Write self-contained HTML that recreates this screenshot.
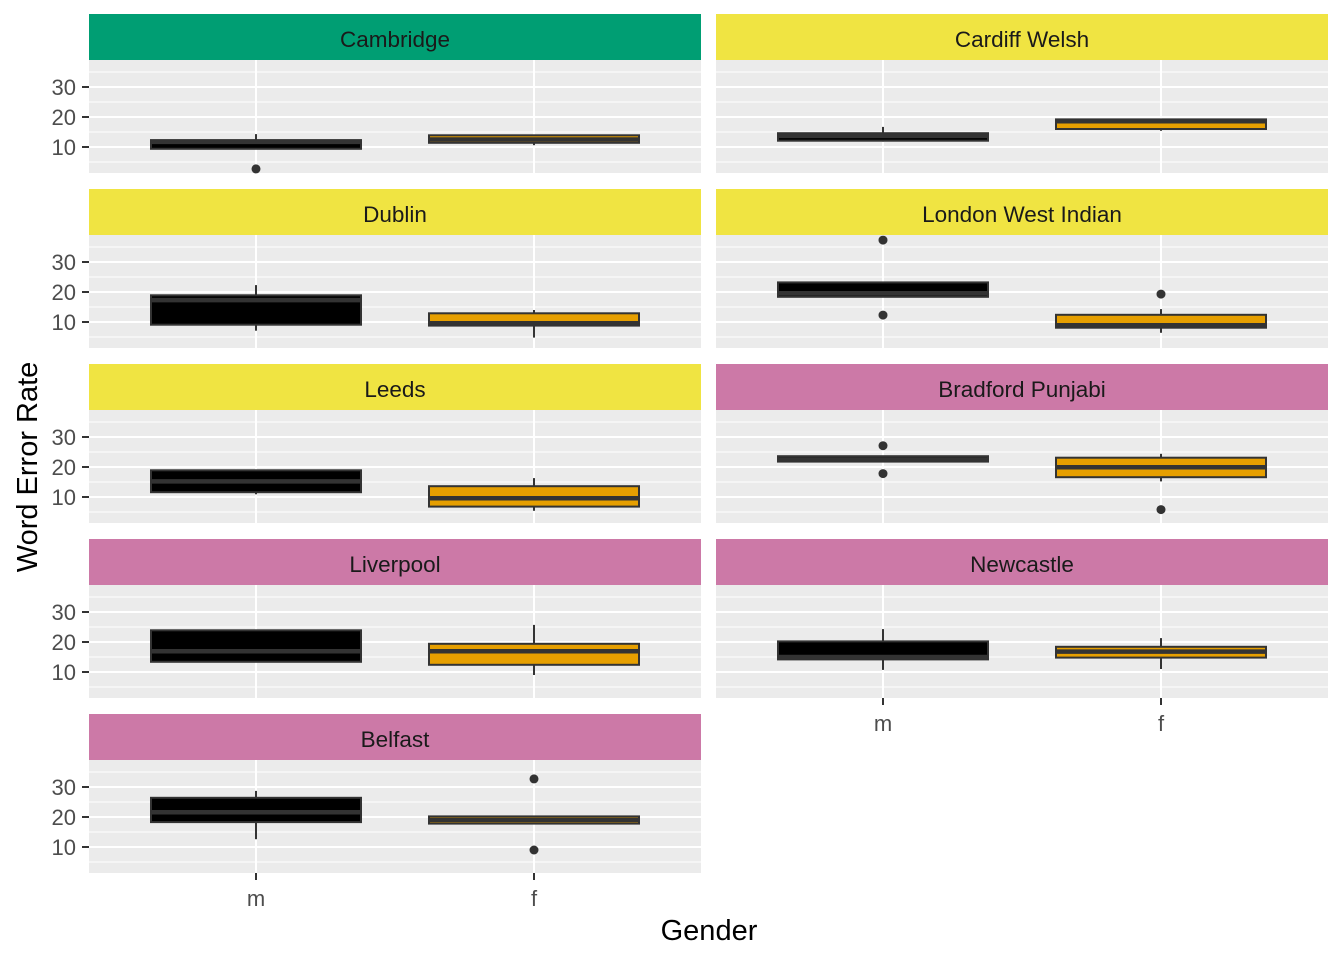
<!DOCTYPE html>
<html><head><meta charset="utf-8"><style>
body{margin:0;background:#fff;font-family:"Liberation Sans",Arial,sans-serif}
svg text{font-family:"Liberation Sans",Arial,sans-serif}
</style></head><body>
<svg id="c" width="1344" height="960"></svg>
<script>
const panels=["Cambridge","Cardiff Welsh","Dublin","London West Indian","Leeds","Bradford Punjabi","Liverpool","Newcastle","Belfast"];
const stripColors=["#009E73","#F0E442","#F0E442","#F0E442","#F0E442","#CC79A7","#CC79A7","#CC79A7","#CC79A7"];
const genders=["m","f"];
// [lowWhisker, q1, median, q3, highWhisker] for m and f
const mStats=[[9.4,9.4,11.7,12.3,14.3],[11.8,12.1,13.7,14.6,16.7],[7.1,9.1,17.3,18.9,22.3],[18.4,18.4,19.6,23.2,23.2],[10.9,11.6,15.2,18.9,18.9],[21.8,21.8,22.5,23.6,23.6],[13.2,13.4,16.9,23.9,23.9],[10.7,14.2,15,20.2,24.3],[12.6,18.3,21.6,26.4,28.7]];
const fStats=[[10.6,11.4,12.5,13.9,13.9],[15.4,16,18.6,19.2,19.2],[4.8,8.8,9.6,12.9,14],[6.4,8.1,8.9,12.4,14.3],[5.4,6.8,9.6,13.6,16.3],[15.2,16.6,19.9,23.1,24.4],[9,12.4,16.9,19.4,25.7],[11,14.8,16.8,18.4,21.3],[17.8,17.8,19,20.2,20.2]];
const mOut=[[2.7],[],[],[37.3,12.3],[],[27.1,17.8],[],[],[]];
const fOut=[[],[],[],[19.3],[],[5.8],[],[],[32.7,9]];
const yTicks=[10,20,30];
const yMinor=[5,15,25,35];

const svg=document.getElementById('c');const NS="http://www.w3.org/2000/svg";
function el(t,a,p){const e=document.createElementNS(NS,t);for(const k in a)e.setAttribute(k,a[k]);(p||svg).appendChild(e);return e;}
const colX=[89,716],PW=612,PH=113;
function yScale(top,v){return top+117-3*v;}
function xScale(left,i){return left+167+i*278;}
panels.forEach((name,p)=>{
  const col=p%2,row=Math.floor(p/2);
  const left=colX[col],stripTop=14+row*175,top=stripTop+46;
  const g=el('g',{});
  
  
  const s=el('rect',{x:left,y:stripTop,width:PW,height:46,fill:stripColors[p]},g);
  
  
  const st=el('text',{x:left+PW/2,y:stripTop+33,'text-anchor':'middle','font-size':22.5,fill:'#1a1a1a'},g);st.textContent=name;
  
  
  const bg=el('rect',{x:left,y:top,width:PW,height:PH,fill:'#EBEBEB'},g);
  
  
  yMinor.forEach(v=>{const y=yScale(top,v);if(y>top&&y<top+PH)el('line',{x1:left,x2:left+PW,y1:y,y2:y,stroke:'#fff','stroke-width':1},g);});
  yTicks.forEach(v=>{const y=yScale(top,v);el('line',{x1:left,x2:left+PW,y1:y,y2:y,stroke:'#fff','stroke-width':2},g);});
  genders.forEach((gn,i)=>{const x=xScale(left,i);el('line',{x1:x,x2:x,y1:top,y2:top+PH,stroke:'#fff','stroke-width':2},g);});
  if(col===0){yTicks.forEach(v=>{const y=yScale(top,v);
    el('line',{x1:left-7,x2:left,y1:y,y2:y,stroke:'#333','stroke-width':2},g);
    const t=el('text',{x:left-13,y:y+8,'text-anchor':'end','font-size':22,fill:'#4d4d4d'},g);t.textContent=v;
    
    });}
  if(p===7||p===8){genders.forEach((gn,i)=>{const x=xScale(left,i);
    el('line',{x1:x,x2:x,y1:top+PH,y2:top+PH+7,stroke:'#333','stroke-width':2},g);
    const t=el('text',{x:x,y:top+PH+33,'text-anchor':'middle','font-size':22,fill:'#4d4d4d'},g);t.textContent=gn;
    
    });}
  [mStats[p],fStats[p]].forEach((st,i)=>{
    const x=xScale(left,i),fill=i===0?'#000000':'#E69F00';
    const bx=el('g',{},g);
    
    
    el('line',{x1:x,x2:x,y1:yScale(top,st[0]),y2:yScale(top,st[1]),stroke:'#333','stroke-width':2},bx);
    el('line',{x1:x,x2:x,y1:yScale(top,st[3]),y2:yScale(top,st[4]),stroke:'#333','stroke-width':2},bx);
    el('rect',{x:x-105,y:yScale(top,st[3]),width:210,height:Math.max(0.5,yScale(top,st[1])-yScale(top,st[3])),fill:fill,stroke:'#333','stroke-width':2},bx);
    el('line',{x1:x-105,x2:x+105,y1:yScale(top,st[2]),y2:yScale(top,st[2]),stroke:'#333','stroke-width':4.5},bx);
    (i===0?mOut[p]:fOut[p]).forEach(v=>{const c=el('circle',{cx:x,cy:yScale(top,v),r:4.5,fill:'#333'},bx);
      
      });
  });
});
const yt=el('text',{x:0,y:0,transform:'translate(37,467) rotate(-90)','text-anchor':'middle','font-size':29,fill:'#000'});yt.textContent='Word Error Rate';


const xt=el('text',{x:709,y:940,'text-anchor':'middle','font-size':29,fill:'#000'});xt.textContent='Gender';


</script>
</body></html>
